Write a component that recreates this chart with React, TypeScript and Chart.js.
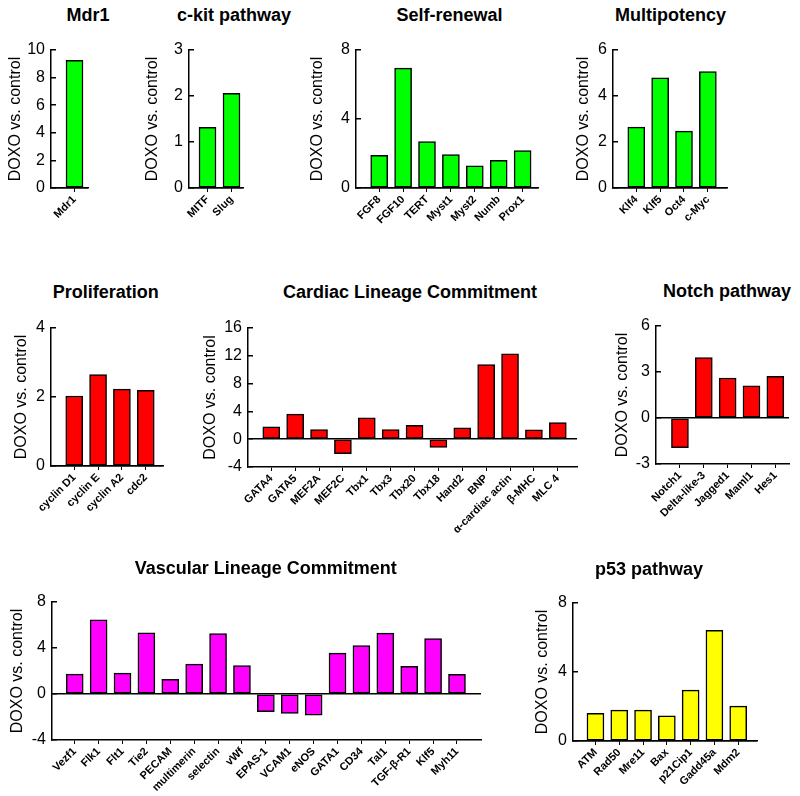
import React, { useEffect, useRef } from 'react';
import { Chart, registerables } from 'chart.js';

Chart.register(...registerables);

// ---------- data ----------
const mdr1Labels = ['Mdr1'];
const mdr1Values = [9.25];

const ckitLabels = ['MITF', 'Slug'];
const ckitValues = [1.32, 2.06];

const selfRenewalLabels = ['FGF8', 'FGF10', 'TERT', 'Myst1', 'Myst2', 'Numb', 'Prox1'];
const selfRenewalValues = [1.9, 6.95, 2.69, 1.94, 1.28, 1.61, 2.17];

const multipotencyLabels = ['Klf4', 'Klf5', 'Oct4', 'c-Myc'];
const multipotencyValues = [2.65, 4.79, 2.47, 5.06];

const proliferationLabels = ['cyclin D1', 'cyclin E', 'cyclin A2', 'cdc2'];
const proliferationValues = [2.03, 2.65, 2.23, 2.19];

const cardiacLabels = ['GATA4', 'GATA5', 'MEF2A', 'MEF2C', 'Tbx1', 'Tbx3', 'Tbx20', 'Tbx18', 'Hand2', 'BNP', 'α-cardiac actin', 'β-MHC', 'MLC 4'];
const cardiacValues = [1.77, 3.6, 1.38, -2.07, 3.06, 1.38, 2.01, -1.2, 1.63, 10.73, 12.27, 1.34, 2.39];

const notchLabels = ['Notch1', 'Delta-like-3', 'Jagged1', 'Maml1', 'Hes1'];
const notchValues = [-1.93, 3.94, 2.61, 2.09, 2.72];

const vascularLabels = ['Vezf1', 'Flk1', 'Flt1', 'Tie2', 'PECAM', 'multimerin', 'selectin', 'vWf', 'EPAS-1', 'VCAM1', 'eNOS', 'GATA1', 'CD34', 'Tal1', 'TGF-β-R1', 'Klf5', 'Myh11'];
const vascularValues = [1.73, 6.44, 1.82, 5.32, 1.27, 2.6, 5.26, 2.48, -1.53, -1.68, -1.85, 3.56, 4.22, 5.29, 2.4, 4.82, 1.7];

const p53Labels = ['ATM', 'Rad50', 'Mre11', 'Bax', 'p21Cip1', 'Gadd45a', 'Mdm2'];
const p53Values = [1.6, 1.79, 1.79, 1.46, 2.95, 6.42, 2.02];

const yAxisTitle = 'DOXO vs. control';

// ---------- layout / style ----------
const FONT = '"Liberation Sans", Arial, Helvetica, sans-serif';
const GREEN = '#00FF00';
const RED = '#FF0000';
const MAGENTA = '#FF00FF';
const YELLOW = '#FFFF00';

type PanelDef = {
  title: string;
  labels: string[];
  values: number[];
  color: string;
  yMin: number;
  yMax: number;
  yStep: number;
  left: number;
  right: number;
  top: number;
  bottom: number;
  c0: number;
  sp: number;
  yTitleGap: number;
  titleX: number;
  titleY: number;
};

const panels: PanelDef[] = [
  { title: 'Mdr1', labels: mdr1Labels, values: mdr1Values, color: GREEN, yMin: 0, yMax: 10, yStep: 2,
    left: 51, right: 88, top: 50, bottom: 188, c0: 74.5, sp: 24, yTitleGap: 35, titleX: 88, titleY: 15 },
  { title: 'c-kit pathway', labels: ckitLabels, values: ckitValues, color: GREEN, yMin: 0, yMax: 3, yStep: 1,
    left: 189, right: 243, top: 50, bottom: 188, c0: 207.5, sp: 24, yTitleGap: 36, titleX: 234, titleY: 15 },
  { title: 'Self-renewal', labels: selfRenewalLabels, values: selfRenewalValues, color: GREEN, yMin: 0, yMax: 8, yStep: 4,
    left: 356, right: 538, top: 50, bottom: 188, c0: 379.2, sp: 23.9, yTitleGap: 38, titleX: 449.5, titleY: 15 },
  { title: 'Multipotency', labels: multipotencyLabels, values: multipotencyValues, color: GREEN, yMin: 0, yMax: 6, yStep: 2,
    left: 612.7, right: 726.7, top: 50, bottom: 188, c0: 636, sp: 23.85, yTitleGap: 29.7, titleX: 670.5, titleY: 15 },
  { title: 'Proliferation', labels: proliferationLabels, values: proliferationValues, color: RED, yMin: 0, yMax: 4, yStep: 2,
    left: 50.7, right: 163, top: 328.3, bottom: 466.7, c0: 74, sp: 23.9, yTitleGap: 29, titleX: 105.8, titleY: 292 },
  { title: 'Cardiac Lineage Commitment', labels: cardiacLabels, values: cardiacValues, color: RED, yMin: -4, yMax: 16, yStep: 4,
    left: 247.5, right: 576.7, top: 327.7, bottom: 466.7, c0: 270.8, sp: 23.89, yTitleGap: 37.5, titleX: 410, titleY: 292 },
  { title: 'Notch pathway', labels: notchLabels, values: notchValues, color: RED, yMin: -3, yMax: 6, yStep: 3,
    left: 656, right: 789.3, top: 325.7, bottom: 463.3, c0: 680, sp: 23.9, yTitleGap: 33, titleX: 727, titleY: 291 },
  { title: 'Vascular Lineage Commitment', labels: vascularLabels, values: vascularValues, color: MAGENTA, yMin: -4, yMax: 8, yStep: 4,
    left: 52.3, right: 481, top: 602.3, bottom: 740.7, c0: 75, sp: 23.875, yTitleGap: 34.5, titleX: 265.8, titleY: 567.5 },
  { title: 'p53 pathway', labels: p53Labels, values: p53Values, color: YELLOW, yMin: 0, yMax: 8, yStep: 4,
    left: 573, right: 757.3, top: 603, bottom: 741.3, c0: 595.5, sp: 23.83, yTitleGap: 30.5, titleX: 649, titleY: 569 },
];

const YW = 50; // y-axis box width
const PT = 24; // top padding (>= y tick half height + tick padding)
const PR = 10; // right padding
const XH = 85; // x-axis box height

function BarPanel({ p }: { p: PanelDef }) {
  const ref = useRef<HTMLCanvasElement | null>(null);
  const canvasLeft = p.left - YW;
  const canvasTop = p.top - PT;
  const w = p.right - canvasLeft + PR;
  const h = PT + (p.bottom - p.top) + XH;

  useEffect(() => {
    if (!ref.current) return;
    const chart = new Chart(ref.current, {
      type: 'bar',
      data: {
        datasets: [
          {
            data: p.values.map((v, i) => ({ x: i, y: v })),
            backgroundColor: p.color,
            borderColor: '#000',
            borderWidth: 1.5,
            borderSkipped: false,
            barThickness: 17,
          } as any,
        ],
      },
      options: {
        responsive: false,
        maintainAspectRatio: false,
        animation: false,
        layout: { padding: { top: PT, right: PR, left: 0, bottom: 0 } },
        plugins: {
          legend: { display: false },
          tooltip: { enabled: false },
          title: { display: false },
        },
        scales: {
          x: {
            type: 'linear',
            offset: false,
            min: -(p.c0 - p.left) / p.sp,
            max: (p.right - p.c0) / p.sp,
            afterBuildTicks: (s: any) => {
              s.ticks = p.labels.map((_, i) => ({ value: i }));
            },
            afterFit: (s: any) => {
              s.height = XH;
            },
            ticks: {
              autoSkip: false,
              maxRotation: 45,
              minRotation: 45,
              padding: 1,
              color: '#000',
              font: { family: FONT, size: 11, weight: 'bold' },
              callback: (v: any) => p.labels[v as number] ?? '',
            },
            grid: {
              offset: false,
              drawOnChartArea: false,
              drawTicks: true,
              tickLength: 4,
              tickColor: '#000',
              tickWidth: 1,
            },
            border: { display: true, color: '#000', width: 1.5 },
          },
          y: {
            type: 'linear',
            min: p.yMin,
            max: p.yMax,
            afterFit: (s: any) => {
              s.width = YW;
            },
            ticks: {
              stepSize: p.yStep,
              color: '#000',
              padding: 11,
              font: { family: FONT, size: 16 },
            },
            grid: {
              color: (ctx: any) => (ctx.tick && ctx.tick.value === 0 ? '#000' : 'rgba(0,0,0,0)'),
              lineWidth: 1.5,
              drawTicks: true,
              tickLength: -5,
              tickColor: '#000',
              tickWidth: 1.5,
            },
            border: { display: true, color: '#000', width: 1.5 },
            title: {
              display: true,
              text: yAxisTitle,
              color: '#000',
              font: { family: FONT, size: 16 },
              padding: { top: Math.max(0, YW - p.yTitleGap - 9.6), bottom: 0 },
            },
          },
        },
      } as any,
    });
    return () => chart.destroy();
  }, [p]);

  return (
    <>
      <canvas
        ref={ref}
        width={Math.round(w)}
        height={Math.round(h)}
        style={{ position: 'absolute', left: canvasLeft, top: canvasTop, width: Math.round(w), height: Math.round(h) }}
      />
      <div
        style={{
          position: 'absolute',
          left: p.titleX,
          top: p.titleY,
          transform: 'translate(-50%, -50%)',
          font: `bold 18px ${FONT}`,
          color: '#000',
          whiteSpace: 'nowrap',
        }}
      >
        {p.title}
      </div>
    </>
  );
}

export default function App() {
  return (
    <div style={{ position: 'absolute', left: 0, top: 0, width: 800, height: 796, background: '#fff', overflow: 'hidden' }}>
      {panels.map((p) => (
        <BarPanel key={p.title} p={p} />
      ))}
    </div>
  );
}
